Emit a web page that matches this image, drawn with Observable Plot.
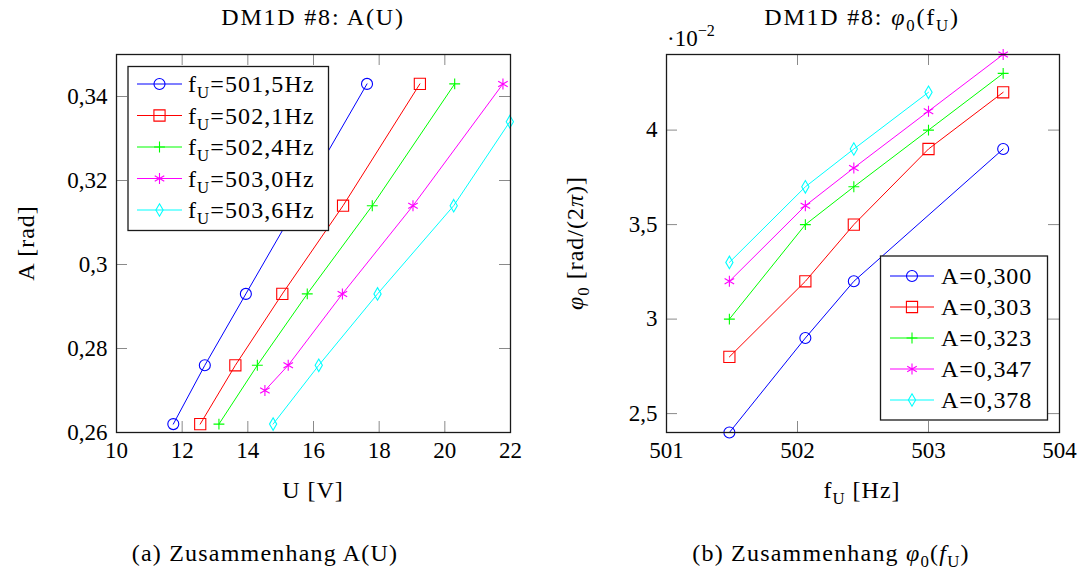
<!DOCTYPE html>
<html>
<head>
<meta charset="utf-8">
<script src="https://cdn.jsdelivr.net/npm/d3@7"></script>
<script src="https://cdn.jsdelivr.net/npm/@observablehq/plot@0.6"></script>
<style>
  html, body { margin: 0; padding: 0; background: #fff; }
  #root { position: relative; width: 1082px; height: 572px; overflow: hidden; background: #fff; }
  #root > svg { position: absolute; top: 0; }
</style>
</head>
<body>
<div id="root"></div>
<script>
// ---------------- data ----------------
const seriesColors = ["#0000ff", "#ff0000", "#00ff00", "#ff00ff", "#00ffff"];
const seriesSymbols = ["circle", "square", "plus", "asterisk", "diamond"];

// (a) A(U), one series per excitation frequency f_U
const freqLabels = ["501,5", "502,1", "502,4", "503,0", "503,6"];
const u_501_5 = [11.73, 12.69, 13.94, 15.49, 17.63];
const a_501_5 = [0.262, 0.276, 0.293, 0.314, 0.343];
const u_502_1 = [12.55, 13.62, 15.05, 16.90, 19.24];
const a_502_1 = [0.262, 0.276, 0.293, 0.314, 0.343];
const u_502_4 = [13.12, 14.29, 15.81, 17.79, 20.30];
const a_502_4 = [0.262, 0.276, 0.293, 0.314, 0.343];
const u_503_0 = [14.52, 15.23, 16.88, 19.03, 21.77];
const a_503_0 = [0.270, 0.276, 0.293, 0.314, 0.343];
const u_503_6 = [14.77, 16.16, 17.95, 20.27, 21.98];
const a_503_6 = [0.262, 0.276, 0.293, 0.314, 0.334];
const xTicksA = [10, 12, 14, 16, 18, 20, 22];
const yTicksA = [0.26, 0.28, 0.30, 0.32, 0.34];

// (b) phi0(f_U), one series per amplitude A; phi0 in units of 10^-2 rad/(2pi)
const ampLabels = ["0,300", "0,303", "0,323", "0,347", "0,378"];
const f_A300 = [501.48, 502.06, 502.43, 503.57];
const p_A300 = [2.4, 2.9, 3.2, 3.9];
const f_A303 = [501.48, 502.06, 502.43, 503.00, 503.57];
const p_A303 = [2.8, 3.2, 3.5, 3.9, 4.2];
const f_A323 = [501.48, 502.06, 502.43, 503.00, 503.57];
const p_A323 = [3.0, 3.5, 3.7, 4.0, 4.3];
const f_A347 = [501.48, 502.06, 502.43, 503.00, 503.57];
const p_A347 = [3.2, 3.6, 3.8, 4.1, 4.4];
const f_A378 = [501.48, 502.06, 502.43, 503.00];
const p_A378 = [3.3, 3.7, 3.9, 4.2];
const xTicksB = [501, 502, 503, 504];
const yTicksB = [2.5, 3, 3.5, 4];

// ---------------- styling ----------------
const FONT = '"Liberation Serif", "DejaVu Serif", serif';
const markerR = {circle: 5.5, square: 6.3, plus: 3.6, asterisk: 5.2, diamond: 3.8};
const fmt = d => String(+d.toFixed(4)).replace(".", ",");
const TICK = 11, TICKCOLOR = "#8a8a8a";

function zipRows(xs, ys) { return xs.map((x, i) => ({x, y: ys[i]})); }

const seriesA = [[u_501_5, a_501_5], [u_502_1, a_502_1], [u_502_4, a_502_4], [u_503_0, a_503_0], [u_503_6, a_503_6]]
  .map(([xs, ys], i) => ({rows: zipRows(xs, ys), color: seriesColors[i], symbol: seriesSymbols[i]}));
const seriesB = [[f_A300, p_A300], [f_A303, p_A303], [f_A323, p_A323], [f_A347, p_A347], [f_A378, p_A378]]
  .map(([xs, ys], i) => ({rows: zipRows(xs, ys), color: seriesColors[i], symbol: seriesSymbols[i]}));

function panel({series, xDomain, yDomain, xTicks, yTicks, width, height, mL, mR, mT, mB}) {
  const fw = width - mL - mR, fh = height - mT - mB;
  const marks = [
    Plot.tickX(xTicks, {x: d => d, stroke: TICKCOLOR, strokeWidth: 1, insetTop: fh - TICK}),
    Plot.tickX(xTicks, {x: d => d, stroke: TICKCOLOR, strokeWidth: 1, insetBottom: fh - TICK}),
    Plot.tickY(yTicks, {y: d => d, stroke: TICKCOLOR, strokeWidth: 1, insetRight: fw - TICK}),
    Plot.tickY(yTicks, {y: d => d, stroke: TICKCOLOR, strokeWidth: 1, insetLeft: fw - TICK})
  ];
  for (const s of series) {
    marks.push(Plot.line(s.rows, {x: "x", y: "y", stroke: s.color, strokeWidth: 1}));
  }
  for (const s of series) {
    marks.push(Plot.dot(s.rows, {x: "x", y: "y", symbol: s.symbol, r: markerR[s.symbol], stroke: s.color, fill: "none", strokeWidth: 1.1}));
  }
  marks.push(
    Plot.axisX({ticks: xTicks, tickSize: 0, tickPadding: 9, tickFormat: fmt, label: null, fontSize: 23}),
    Plot.axisY({ticks: yTicks, tickSize: 0, tickPadding: 9, tickFormat: fmt, label: null, fontSize: 23}),
    Plot.frame({stroke: "#1a1a1a", strokeWidth: 1.3})
  );
  return Plot.plot({
    width, height,
    marginLeft: mL, marginRight: mR, marginTop: mT, marginBottom: mB,
    x: {domain: xDomain, label: null},
    y: {domain: yDomain, label: null},
    style: {fontFamily: FONT, fontSize: "23px", color: "#000", background: "transparent", overflow: "visible"},
    marks
  });
}

const root = document.getElementById("root");

const svgA = panel({series: seriesA, xDomain: [10, 22], yDomain: [0.26, 0.35], xTicks: xTicksA, yTicks: yTicksA,
  width: 541, height: 470, mL: 116, mR: 31, mT: 54, mB: 38});
svgA.style.left = "0px";
root.appendChild(svgA);

const svgB = panel({series: seriesB, xDomain: [501, 504], yDomain: [2.4, 4.4], xTicks: xTicksB, yTicks: yTicksB,
  width: 541, height: 470, mL: 125, mR: 23, mT: 54, mB: 38});
svgB.style.left = "541px";
root.appendChild(svgB);

// ---------------- overlay: titles, labels, legends, captions ----------------
const ov = d3.select(root).append("svg")
  .attr("width", 1082).attr("height", 572)
  .style("left", "0px").style("font-family", FONT).style("font-size", "24px");

function richPx(parent, x, y, parts, opts = {}) {
  const t = parent.append("text").attr("x", x).attr("y", y)
    .attr("text-anchor", opts.anchor || "start").attr("fill", "#000")
    .style("font-family", FONT);
  if (opts.transform) t.attr("transform", opts.transform);
  const size = opts.size || 24;
  t.style("font-size", size + "px");
  if (opts.spacing) t.style("letter-spacing", opts.spacing + "px");
  let shift = 0;
  for (const p of parts) {
    const want = p.sub ? 0.26 * size : p.sup ? -0.42 * size : 0;
    const ts = t.append("tspan").text(p.t);
    if (want !== shift) ts.attr("dy", want - shift);
    if (p.sub || p.sup) ts.style("font-size", (0.7 * size) + "px");
    if (p.it) ts.style("font-style", "italic");
    shift = want;
  }
  return t;
}

// titles
richPx(ov, 313, 25, [{t: "DM1D #8: A(U)"}], {anchor: "middle", spacing: 1.8});
richPx(ov, 862, 25, [{t: "DM1D #8: "}, {t: "φ", it: true}, {t: "0", sub: true}, {t: "(f"}, {t: "U", sub: true}, {t: ")"}], {anchor: "middle", spacing: 1.8});

// scale factor of panel (b)
richPx(ov, 667, 46, [{t: "·10"}, {t: "−2", sup: true}], {size: 23});

// axis labels
richPx(ov, 313, 498, [{t: "U [V]"}], {anchor: "middle", spacing: 1});
richPx(ov, 862, 498, [{t: "f"}, {t: "U", sub: true}, {t: " [Hz]"}], {anchor: "middle", spacing: 1});
richPx(ov, 0, 0, [{t: "A [rad]"}], {anchor: "middle", transform: "translate(34,243) rotate(-90)", spacing: 1});
richPx(ov, 0, 0, [{t: "φ", it: true}, {t: "0", sub: true}, {t: " [rad/(2"}, {t: "π", it: true}, {t: ")]"}],
  {anchor: "middle", transform: "translate(583,243) rotate(-90)", spacing: 1});

// captions
richPx(ov, 265, 561, [{t: "(a) Zusammenhang A(U)"}], {anchor: "middle", spacing: 1.2});
richPx(ov, 831, 561, [{t: "(b) Zusammenhang "}, {t: "φ", it: true}, {t: "0", sub: true}, {t: "("}, {t: "f", it: true}, {t: "U", sub: true}, {t: ")"}],
  {anchor: "middle", spacing: 1.2});

// legends
function legend({x, y, w, h, row0, step, line1, line2, textX, spacing, entries}) {
  const g = ov.append("g");
  g.append("rect").attr("x", x).attr("y", y).attr("width", w).attr("height", h)
    .attr("fill", "#fff").attr("stroke", "#1a1a1a").attr("stroke-width", 1.3);
  entries.forEach((e, i) => {
    const cy = row0 + i * step;
    g.append("line").attr("x1", line1).attr("x2", line2).attr("y1", cy).attr("y2", cy)
      .attr("stroke", e.color).attr("stroke-width", 1.2);
    const r = markerR[e.symbol];
    const sym = {circle: d3.symbolCircle, square: d3.symbolSquare, plus: d3.symbolPlus, asterisk: d3.symbolAsterisk, diamond: d3.symbolDiamond}[e.symbol];
    g.append("path").attr("d", d3.symbol(sym, r * r * Math.PI)())
      .attr("transform", `translate(${(line1 + line2) / 2},${cy})`)
      .attr("fill", "none").attr("stroke", e.color).attr("stroke-width", 1.1);
    richPx(g, textX, cy + 8, e.parts, {size: 24, spacing});
  });
}

legend({x: 128, y: 66.5, w: 200.5, h: 164, row0: 84, step: 31.5, line1: 137, line2: 182, textX: 188, spacing: 1.1,
  entries: freqLabels.map((f, i) => ({color: seriesColors[i], symbol: seriesSymbols[i],
    parts: [{t: "f"}, {t: "U", sub: true}, {t: "=" + f + "Hz"}]}))});

legend({x: 880.5, y: 256, w: 167, h: 164, row0: 276, step: 31, line1: 890, line2: 934, textX: 941, spacing: 0.9,
  entries: ampLabels.map((a, i) => ({color: seriesColors[i], symbol: seriesSymbols[i],
    parts: [{t: "A=" + a}]}))});
</script>
</body>
</html>
